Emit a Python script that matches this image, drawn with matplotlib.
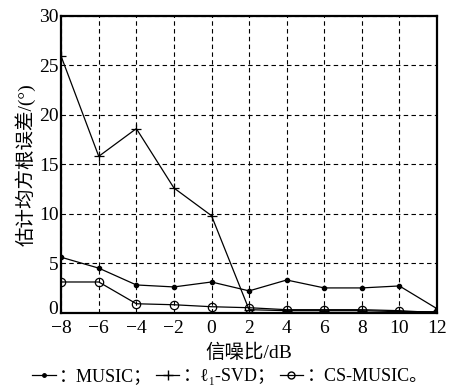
import matplotlib
matplotlib.use("Agg")
import matplotlib.pyplot as plt
import matplotlib.transforms as mtransforms
from matplotlib.lines import Line2D

plt.rcParams['font.family'] = ['Liberation Serif', 'DejaVu Serif', 'Noto Sans CJK SC']

snr = [-8, -6, -4, -2, 0, 2, 4, 6, 8, 10, 12]
music = [5.6, 4.5, 2.8, 2.6, 3.1, 2.2, 3.3, 2.5, 2.5, 2.7, 0.4]
l1svd = [25.9, 15.8, 18.6, 12.6, 9.8, 0.3, 0.2, 0.2, 0.2, 0.1, 0.1]
csmusic = [3.1, 3.1, 0.9, 0.8, 0.6, 0.5, 0.3, 0.3, 0.3, 0.2, 0.0]

fig = plt.figure(figsize=(4.6, 3.86), dpi=100)
ax = fig.add_axes([0.133, 0.19, 0.817, 0.769])

ax.plot(snr, music, color='black', lw=0.9, marker='.', ms=6)
ax.plot(snr, l1svd, color='black', lw=0.9, marker='+', ms=7, mew=0.9)
ax.plot(snr, csmusic, color='black', lw=0.9, marker='o', ms=6, mfc='none', mew=0.9)

ax.set_xlim(-8, 12)
ax.set_ylim(0, 30)
ax.set_xticks(range(-8, 13, 2))
ax.set_yticks(range(0, 31, 5))
ax.set_xticklabels([str(v).replace('-', '\u2212') for v in range(-8, 13, 2)])
ax.grid(True, color='black', ls=(0, (4, 3)), lw=0.8)
ax.tick_params(length=0, labelsize=14)
ax.tick_params(axis='x', pad=5)
ax.tick_params(axis='y', pad=2)
for s in ax.spines.values():
    s.set_linewidth(1.6)

# nudge the "0" on the y axis up so it clears the "-8" below it
fig.canvas.draw()
lab0 = ax.get_yticklabels()[0]
lab0.set_transform(lab0.get_transform() +
                   mtransforms.ScaledTranslation(0, 4 / 72, fig.dpi_scale_trans))

ax.set_xlabel('信噪比/dB', fontsize=14, labelpad=5)
ax.set_ylabel('估计均方根误差/(°)', fontsize=14, labelpad=2)

handles = [
    Line2D([], [], color='black', lw=0.9, marker='.', ms=5),
    Line2D([], [], color='black', lw=0.9, marker='+', ms=7),
    Line2D([], [], color='black', lw=0.9, marker='o', ms=5, mfc='none'),
]
labels = ['：MUSIC；', '：ℓ\u2081-SVD；', '：CS-MUSIC。']
fig.legend(handles, labels, loc='lower center', bbox_to_anchor=(0.5, -0.04),
           ncol=3, frameon=False, fontsize=13, handlelength=1.3,
           handletextpad=0.2, columnspacing=0.2)

fig.savefig('out.png', dpi=100)
